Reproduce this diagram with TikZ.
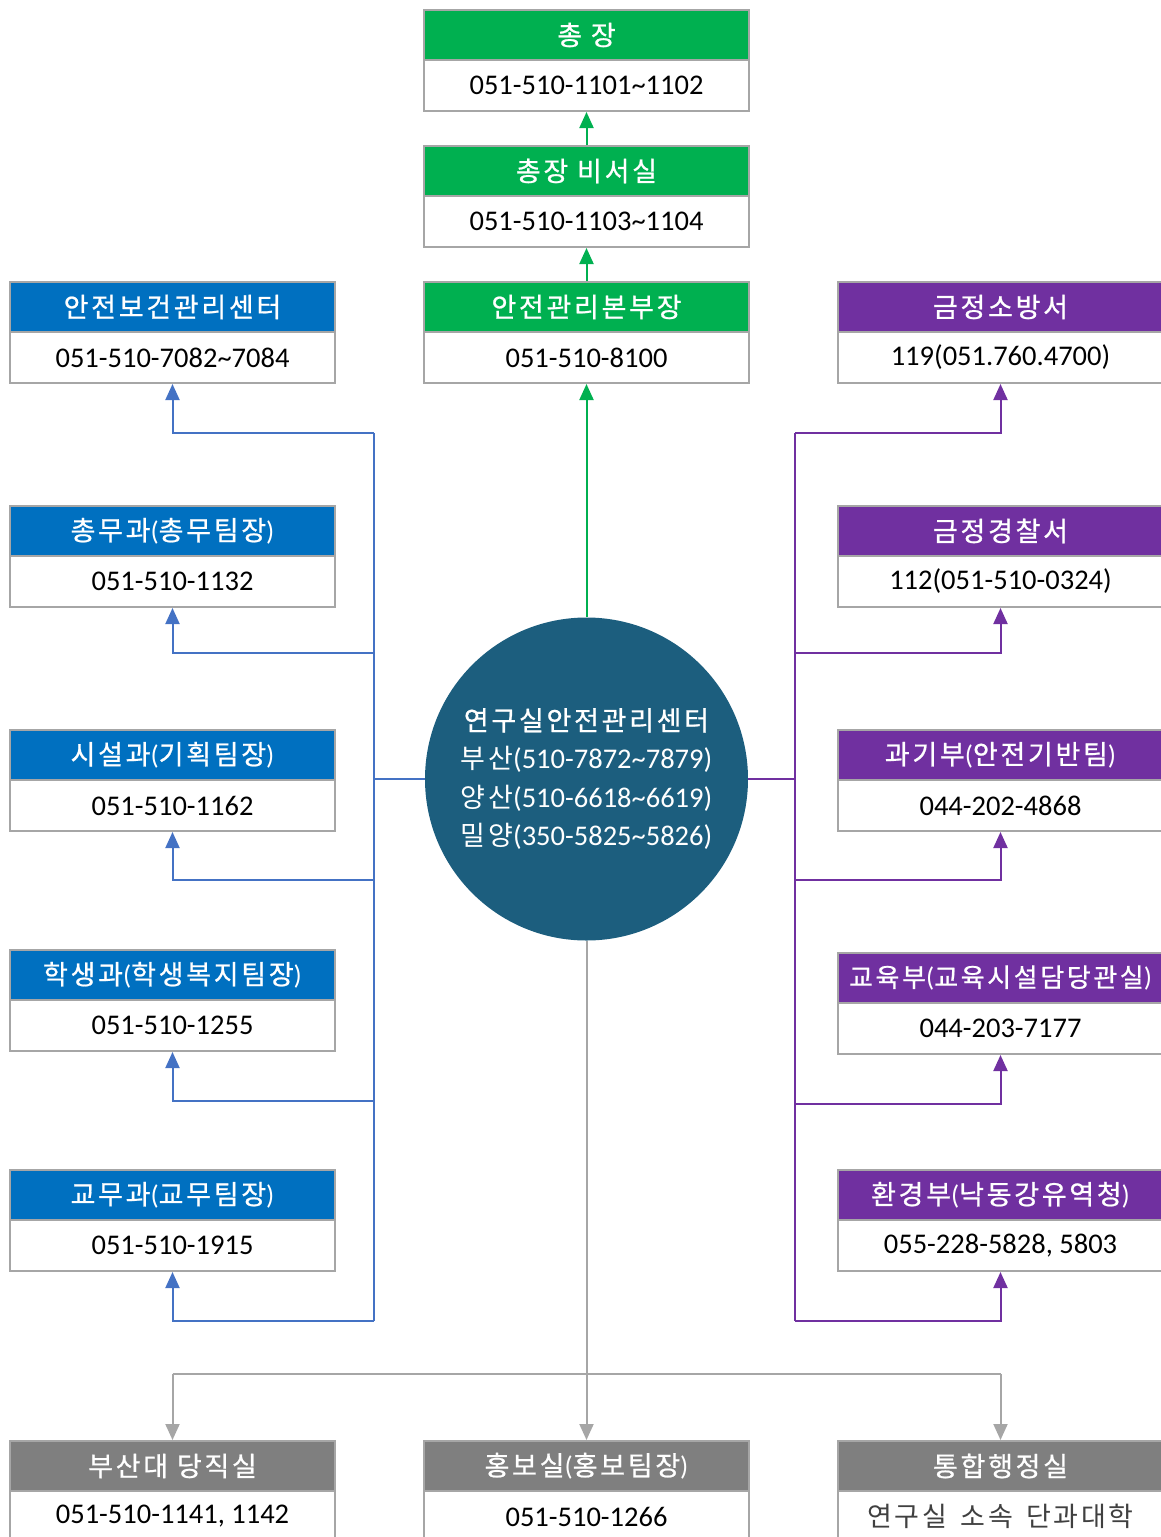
\documentclass[tikz,border=0pt]{standalone}
\usepackage{fontspec}
\setmainfont{Carlito}
\newfontfamily\kr[LetterSpace=10]{Noto Sans CJK KR}
\newfontfamily\krm[LetterSpace=10,FakeBold=0.8]{Noto Sans CJK KR}
\usetikzlibrary{arrows.meta}
\definecolor{cgreen}{HTML}{00B050}
\definecolor{cblue}{HTML}{0070C0}
\definecolor{cpurple}{HTML}{7030A0}
\definecolor{cgrayh}{HTML}{7F7F7F}
\definecolor{cborder}{HTML}{A6A6A6}
\definecolor{ccircle}{HTML}{1C5E7E}
\definecolor{lblue}{HTML}{4472C4}
\definecolor{lgray}{HTML}{A6A6A6}
\tikzset{
  hdr/.style={draw=cborder, line width=2pt, minimum width=325pt, minimum height=50pt, inner sep=0pt, text=white, font=\fontsize{27}{32}\selectfont, anchor=north},
  num/.style={draw=cborder, line width=2pt, fill=white, minimum width=325pt, minimum height=51pt, inner sep=0pt, font=\fontsize{28.5}{34}\selectfont, anchor=north},
  conn/.style={line width=2pt, -{Triangle[width=14pt,length=16pt]}},
  wire/.style={line width=2pt},
}
\newcommand\obox[6]{%
  \node[hdr, fill=#4] (#1-h) at (#2,#3) {#5};
  \node[num] (#1) at (#2,#3+50) {\raisebox{-4pt}{#6}};
}
\begin{document}
\begin{tikzpicture}[x=1pt,y=-1pt]
\useasboundingbox (0,0) rectangle (1161,1537);
% center column
\obox{top}{586.5}{9}{cgreen}{{\krm 총 장}}{051-510-1101\char`~1102}
\obox{sec}{586.5}{145}{cgreen}{{\krm 총장 비서실}}{051-510-1103\char`~1104}
\obox{hq}{586.5}{281}{cgreen}{{\krm 안전관리본부장}}{051-510-8100}
% left column
\obox{L1}{172.5}{281}{cblue}{{\krm 안전보건관리센터}}{051-510-7082\char`~7084}
\obox{L2}{172.5}{505}{cblue}{{\krm 총무과}({\krm 총무팀장})}{051-510-1132}
\obox{L3}{172.5}{729}{cblue}{{\krm 시설과}({\krm 기획팀장})}{051-510-1162}
\obox{L4}{172.5}{949}{cblue}{{\krm 학생과}({\krm 학생복지팀장})}{051-510-1255}
\obox{L5}{172.5}{1169}{cblue}{{\krm 교무과}({\krm 교무팀장})}{051-510-1915}
% right column
\obox{R1}{1000.5}{281}{cpurple}{{\krm 금정소방서}}{119(051.760.4700)}
\obox{R2}{1000.5}{505}{cpurple}{{\krm 금정경찰서}}{112(051-510-0324)}
\obox{R3}{1000.5}{729}{cpurple}{{\krm 과기부}({\krm 안전기반팀})}{044-202-4868}
\obox{R4}{1000.5}{952}{cpurple}{{\fontsize{26}{32}\selectfont\krm 교육부}({\fontsize{26}{32}\selectfont\krm 교육시설담당관실})}{044-203-7177}
\obox{R5}{1000.5}{1169}{cpurple}{{\krm 환경부}({\krm 낙동강유역청})}{055-228-5828, 5803}
% bottom row
\obox{B1}{172.5}{1440}{cgrayh}{{\krm 부산대 당직실}}{051-510-1141, 1142}
\obox{B2}{586.5}{1440}{cgrayh}{{\krm 홍보실}({\krm 홍보팀장})}{051-510-1266}
\obox{B3}{1000.5}{1440}{cgrayh}{{\krm 통합행정실}}{{\fontsize{27}{32}\selectfont\kr\color{black!75} 연구실\, 소속\, 단과대학}}
% circle
\node[circle, fill=ccircle, minimum size=323pt, inner sep=0pt, text=white, align=center,
      font=\fontsize{28.5}{38.5}\selectfont] (c) at (586.5,779)
  {{\fontsize{27}{38.5}\selectfont\krm 연구실안전관리센터}\\
   {\fontsize{27}{38.5}\selectfont\kr 부산}(510-7872\char`~7879)\\
   {\fontsize{27}{38.5}\selectfont\kr 양산}(510-6618\char`~6619)\\
   {\fontsize{27}{38.5}\selectfont\kr 밀양}(350-5825\char`~5826)};
% green
\draw[conn, cgreen] (c.north) -- (hq.south);
\draw[conn, cgreen] (hq-h.north) -- (sec.south);
\draw[conn, cgreen] (sec-h.north) -- (top.south);
% blue
\coordinate (bj) at (374,779);
\coordinate (b1) at (374,433);
\coordinate (b2) at (374,653);
\coordinate (b3) at (374,880);
\coordinate (b4) at (374,1101);
\coordinate (b5) at (374,1321);
\draw[wire, lblue] (c.west) -- (bj);
\draw[wire, lblue] (b1) -- (b5);
\draw[conn, lblue] (b1) -| (L1.south);
\draw[conn, lblue] (b2) -| (L2.south);
\draw[conn, lblue] (b3) -| (L3.south);
\draw[conn, lblue] (b4) -| (L4.south);
\draw[conn, lblue] (b5) -| (L5.south);
% purple
\coordinate (pj) at (795,779);
\coordinate (p1) at (795,433);
\coordinate (p2) at (795,653);
\coordinate (p3) at (795,880);
\coordinate (p4) at (795,1104);
\coordinate (p5) at (795,1321);
\draw[wire, cpurple] (c.east) -- (pj);
\draw[wire, cpurple] (p1) -- (p5);
\draw[conn, cpurple] (p1) -| (R1.south);
\draw[conn, cpurple] (p2) -| (R2.south);
\draw[conn, cpurple] (p3) -| (R3.south);
\draw[conn, cpurple] (p4) -| (R4.south);
\draw[conn, cpurple] (p5) -| (R5.south);
% gray
\coordinate (gm) at (586.5,1374);
\coordinate (gl) at (172.5,1374);
\coordinate (gr) at (1000.5,1374);
\draw[wire, lgray] (c.south) -- (gm);
\draw[wire, lgray] (gl) -- (gr);
\draw[conn, lgray] (gl) -- (B1-h.north);
\draw[conn, lgray] (gm) -- (B2-h.north);
\draw[conn, lgray] (gr) -- (B3-h.north);
\end{tikzpicture}
\end{document}
